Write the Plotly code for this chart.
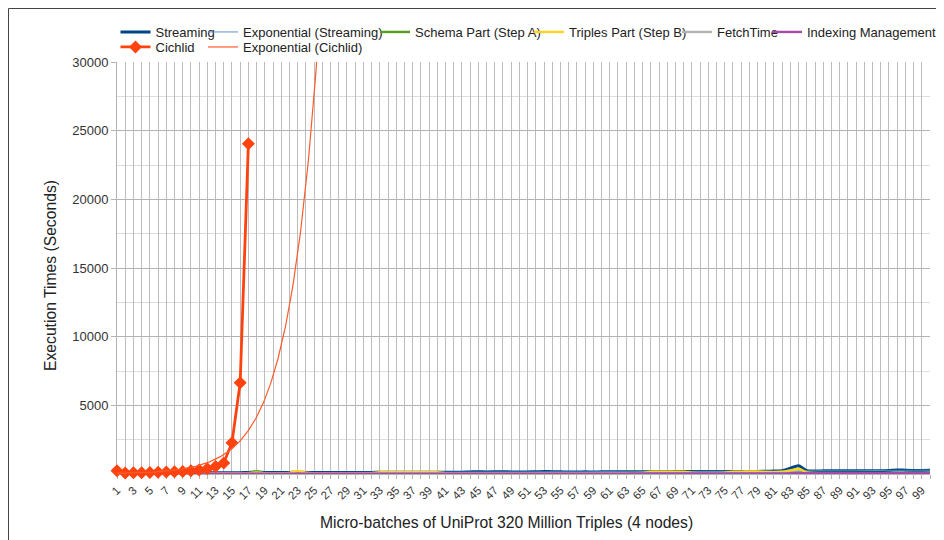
import numpy as np
import plotly.graph_objects as go

# ---------------- data ----------------
batches = list(range(1, 101))
x_tick_labels = [str(i) if i % 2 == 1 else "" for i in batches]
y_tick_values = [5000, 10000, 15000, 20000, 25000, 30000]
y_tick_labels = ["5000", "10000", "15000", "20000", "25000", "30000"]
x_title = "Micro-batches of UniProt 320 Million Triples (4 nodes)"
y_title = "Execution Times (Seconds)"

streaming = [
    90, 70, 70, 75, 75, 80, 80, 85, 85, 90,
    90, 95, 95, 100, 100, 100, 110, 140, 110, 105,
    105, 110, 130, 110, 105, 105, 110, 110, 110, 110,
    110, 115, 130, 130, 125, 125, 125, 130, 130, 125,
    125, 130, 135, 150, 170, 150, 160, 170, 150, 150,
    150, 165, 175, 170, 155, 150, 150, 155, 150, 155,
    160, 165, 170, 160, 160, 165, 170, 170, 175, 175,
    180, 185, 190, 185, 180, 180, 185, 185, 190, 195,
    210, 240, 420, 600, 240, 220, 230, 240, 240, 235,
    230, 230, 235, 240, 260, 300, 270, 260, 260, 270,
]
schema_part = [
    40, 35, 35, 35, 35, 35, 35, 40, 40, 40,
    40, 40, 40, 45, 45, 50, 80, 180, 60, 45,
    45, 45, 50, 45, 45, 45, 45, 45, 45, 45,
    45, 45, 50, 50, 50, 50, 50, 50, 50, 50,
    50, 50, 50, 55, 55, 55, 55, 55, 55, 55,
    55, 55, 55, 55, 55, 55, 55, 55, 55, 55,
    60, 60, 70, 90, 80, 70, 65, 65, 65, 65,
    65, 65, 65, 65, 65, 65, 65, 65, 70, 70,
    75, 80, 100, 140, 110, 90, 80, 75, 75, 75,
    75, 75, 75, 75, 75, 80, 80, 80, 80, 80,
]
triples_part = [
    30, 25, 25, 25, 25, 25, 30, 30, 30, 30,
    30, 30, 30, 35, 35, 35, 40, 120, 50, 40,
    50, 80, 230, 90, 45, 40, 40, 40, 40, 40,
    40, 60, 140, 140, 135, 135, 135, 135, 130, 125,
    60, 45, 45, 45, 45, 45, 45, 45, 45, 45,
    45, 45, 45, 45, 45, 45, 45, 45, 45, 45,
    50, 50, 55, 60, 70, 160, 165, 165, 170, 170,
    90, 80, 80, 80, 90, 170, 175, 180, 185, 150,
    140, 160, 260, 380, 120, 60, 55, 55, 55, 55,
    55, 55, 55, 55, 60, 60, 60, 60, 60, 60,
]
fetch_time = [
    20, 20, 20, 20, 20, 20, 20, 20, 20, 20,
    20, 20, 20, 20, 20, 20, 25, 30, 25, 20,
    20, 20, 25, 20, 20, 20, 20, 20, 20, 20,
    20, 20, 25, 25, 25, 25, 25, 25, 25, 25,
    35, 35, 35, 40, 40, 40, 40, 40, 40, 40,
    40, 40, 40, 40, 40, 40, 40, 40, 40, 40,
    45, 45, 50, 55, 50, 50, 50, 50, 50, 50,
    50, 50, 50, 50, 50, 50, 50, 55, 55, 55,
    60, 65, 80, 100, 70, 65, 65, 65, 65, 65,
    65, 65, 65, 65, 70, 70, 70, 70, 70, 70,
]
indexing_management = [
    15, 15, 15, 15, 15, 15, 15, 15, 15, 15,
    15, 15, 15, 15, 15, 15, 15, 15, 15, 15,
    15, 15, 15, 15, 15, 15, 15, 15, 15, 15,
    15, 15, 15, 15, 15, 15, 15, 15, 15, 15,
    20, 20, 20, 25, 25, 25, 25, 25, 25, 25,
    25, 25, 25, 25, 25, 25, 25, 25, 25, 25,
    30, 30, 30, 35, 35, 35, 35, 35, 35, 35,
    35, 35, 35, 35, 35, 35, 35, 40, 40, 40,
    40, 45, 50, 55, 50, 50, 50, 50, 50, 50,
    50, 50, 50, 50, 55, 55, 55, 55, 55, 55,
]
cichlid_batches = list(range(1, 18))
cichlid = [230, 80, 85, 95, 110, 120, 140, 160, 190, 240,
           300, 380, 540, 800, 2280, 6650, 24050]

# ---------------- exponential trend lines (least squares on log values) ----------------
def exp_trend(xs, ys, x_from, x_to):
    b, ln_a = np.polyfit(np.asarray(xs, float), np.log(np.asarray(ys, float)), 1)
    xf = np.linspace(x_from, x_to, 400)
    return xf, np.exp(ln_a) * np.exp(b * xf)

trend_s_x, trend_s_y = exp_trend(batches, streaming, 1, 100)
trend_c_x, trend_c_y = exp_trend(cichlid_batches, cichlid, 1, 30)

# ---------------- figure ----------------
# the page puts the figure 8 px from the window's top-left corner
OFF = 8
W, H = 944 - OFF, 540 - OFF
ML, MR, MT, MB = 117 - OFF, 14, 62 - OFF, 66
PW, PH = W - ML - MR, H - MT - MB


def px_x(p):  # window pixel -> paper x
    return (p - OFF - ML) / PW


def px_y(p):  # window pixel -> paper y
    return (H - MB - (p - OFF)) / PH


fig = go.Figure()

series = [
    dict(name="Streaming", x=batches, y=streaming, color="#004586", width=3, leg="legend"),
    dict(name="Exponential (Streaming)", x=trend_s_x, y=trend_s_y, color="#5b8fd0", width=1, leg="legend2"),
    dict(name="Schema Part (Step A)", x=batches, y=schema_part, color="#579d1c", width=2.4, leg="legend3"),
    dict(name="Triples Part (Step B)", x=batches, y=triples_part, color="#ffd320", width=2.4, leg="legend4"),
    dict(name="FetchTime", x=batches, y=fetch_time, color="#b3b3b3", width=2.4, leg="legend5"),
    dict(name="Indexing Management", x=batches, y=indexing_management, color="#a64ca6", width=2.4, leg="legend6"),
]
for s in series:
    fig.add_trace(go.Scatter(
        x=s["x"], y=s["y"], name=s["name"], mode="lines",
        line=dict(color=s["color"], width=s["width"], shape="spline", smoothing=0.6),
        legend=s["leg"], hoverinfo="x+y+name",
    ))

fig.add_trace(go.Scatter(
    x=cichlid_batches, y=cichlid, name="Cichlid", mode="lines+markers",
    line=dict(color="#ff420e", width=2.8),
    marker=dict(symbol="diamond", size=10, color="#ff420e"),
    cliponaxis=False, legend="legend7",
))
fig.add_trace(go.Scatter(
    x=trend_c_x, y=trend_c_y, name="Exponential (Cichlid)", mode="lines",
    line=dict(color="#ff5a2a", width=1.2), legend="legend8",
))

# legends: one per entry so every entry sits where it does in the reference
row1_y, row2_y = px_y(32), px_y(47)
text_starts = [152.5, 240, 412, 566, 714, 804]
SHIFT = 3  # plotly's legend line is a bit longer than the reference's
leg_common = dict(orientation="v", xanchor="left", yanchor="middle",
                  bgcolor="rgba(0,0,0,0)", borderwidth=0, visible=True,
                  font=dict(family="Liberation Sans, Arial, sans-serif", size=13, color="#222222"),
                  itemclick=False, itemdoubleclick=False)
legends = {}
for i, ts in enumerate(text_starts):
    key = "legend" if i == 0 else f"legend{i + 1}"
    legends[key] = dict(x=px_x(ts - 40 + SHIFT), y=row1_y, **leg_common)
legends["legend7"] = dict(x=px_x(152.5 - 40 + SHIFT), y=row2_y, **leg_common)
legends["legend8"] = dict(x=px_x(240 - 40 + SHIFT), y=row2_y, **leg_common)

fig.update_layout(
    width=W, height=H, showlegend=True,
    margin=dict(l=ML, r=MR, t=MT, b=MB, autoexpand=False),
    paper_bgcolor="white", plot_bgcolor="white",
    font=dict(family="Liberation Sans, Arial, sans-serif", color="#333333"),
    **legends,
)

fig.update_xaxes(
    range=[1, 100], tickmode="array", tickvals=batches, ticktext=x_tick_labels,
    tickangle=-45, tickfont=dict(size=11.5, color="#333333"),
    ticks="outside", ticklen=4, tickcolor="#b3b3b3",
    showgrid=True, gridcolor="#bdbdbd", gridwidth=1,
    showline=True, linecolor="#b3b3b3", linewidth=1,
    zeroline=False, automargin=False, layer="below traces",
)
fig.update_yaxes(
    range=[0, 30000], tickmode="array", tickvals=y_tick_values, ticktext=y_tick_labels,
    tickfont=dict(size=13, color="#333333"),
    ticks="outside", ticklen=5, tickcolor="#b3b3b3",
    showgrid=True, gridcolor="#b3b3b3", gridwidth=1,
    minor=dict(dtick=2500, tick0=0, showgrid=True, gridcolor="#dddddd", ticks=""),
    showline=True, linecolor="#b3b3b3", linewidth=1,
    zeroline=False, automargin=False, layer="below traces",
)

# axis titles, placed where the reference has them (centred on the chart, not the plot area)
title_font = dict(family="Liberation Sans, Arial, sans-serif", size=15.7, color="#222222")
fig.add_annotation(text=x_title, xref="paper", yref="paper",
                   x=px_x(506), y=px_y(522), xanchor="center", yanchor="middle",
                   showarrow=False, font=title_font)
fig.add_annotation(text=y_title, xref="paper", yref="paper", textangle=-90,
                   x=px_x(50), y=px_y(276), xanchor="center", yanchor="middle",
                   showarrow=False, font=title_font)

# outer frame around the chart (top and left edges visible in the reference)
fig.add_shape(type="rect", xref="paper", yref="paper",
              x0=px_x(8.5), y0=px_y(8.5), x1=px_x(1000), y1=px_y(600),
              line=dict(color="#444444", width=1), fillcolor="rgba(0,0,0,0)", layer="above")

fig.write_html("out.html")
